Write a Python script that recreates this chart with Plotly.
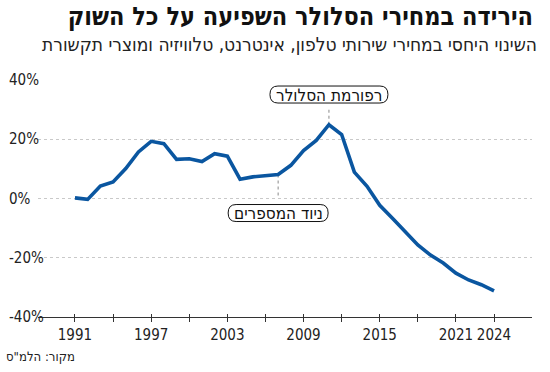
import plotly.graph_objects as go

years = list(range(1991, 2025))
change_pct = [0.2, -0.3, 4.2, 5.6, 10.1, 15.7, 19.3, 18.5, 13.2, 13.4,
              12.5, 15.1, 14.3, 6.5, 7.3, 7.8, 8.1, 11.2, 16.2, 19.6,
              24.9, 21.6, 8.9, 4.1, -2.3, -6.7, -11.2, -15.7, -19.1, -21.8,
              -25.2, -27.5, -29.1, -31.2]

x_tick_vals = list(range(1991, 2025, 3))
x_tick_text = ["1991", "", "1997", "", "2003", "", "2009", "", "2015", "", "2021", "2024"]
y_tick_vals = [-40, -20, 0, 20, 40]
y_tick_text = ["-40%", "-20%", "0%", "20%", "40%"]

title = "הירידה במחירי הסלולר השפיעה על כל השוק"
subtitle = "השינוי היחסי במחירי שירותי טלפון, אינטרנט, טלוויזיה ומוצרי תקשורת"
source = 'מקור: הלמ"ס'
events = [(2011, 24.9, 35.1, "רפורמת הסלולר", 118),
          (2007, 8.1, -4.9, "ניוד המספרים", 100)]

FONT = "Liberation Sans Narrow, DejaVu Sans Condensed, Liberation Sans, sans-serif"
BLUE = "#0a56a0"

fig = go.Figure()
fig.add_trace(go.Scatter(x=years, y=change_pct, mode="lines",
                         line=dict(color=BLUE, width=3.6), hoverinfo="skip"))
# invisible trace for the overlay axis (crossing tick marks)
fig.add_trace(go.Scatter(x=years, y=change_pct, xaxis="x2", mode="lines",
                         line=dict(width=0), opacity=0, hoverinfo="skip"))

xr = [1988.09, 2026.99]
fig.update_layout(
    width=550, height=372,
    margin=dict(l=38, r=18, t=80, b=55),
    paper_bgcolor="white", plot_bgcolor="white",
    showlegend=False,
    font=dict(family=FONT, color="#222"),
    xaxis=dict(range=xr, tickvals=x_tick_vals, ticktext=x_tick_text,
               ticks="outside", ticklen=4, tickcolor="#333", tickwidth=1.3,
               tickangle=0, automargin=False,
               showline=True, linecolor="#333", linewidth=1.3,
               showgrid=False, zeroline=False,
               tickfont=dict(size=15, color="#222", family=FONT)),
    xaxis2=dict(range=xr, overlaying="x", tickvals=x_tick_vals,
                ticks="inside", ticklen=3, tickcolor="#333", tickwidth=1.3,
                showticklabels=False, showgrid=False, zeroline=False,
                showline=False, side="bottom", anchor="y", automargin=False),
    yaxis=dict(range=[-40, 40], tickvals=y_tick_vals, showticklabels=False,
               showgrid=True, gridcolor="#c9c9c9", griddash="dot", gridwidth=1,
               zeroline=False, ticks="", automargin=False),
)

fig.update_layout(title=dict(text="<b>" + title + "</b>", xref="container", yref="container",
                             x=533 / 550, xanchor="right", y=1 - 16 / 372, yanchor="middle",
                             font=dict(size=25, color="#111", family=FONT)))

def px_x(p):
    return (p - 38) / 494

def px_y(p):
    return (317 - p) / 237

annotations = []
annotations.append(dict(text=subtitle, xref="paper", yref="paper", x=px_x(289),
                        y=px_y(44), xanchor="center", yanchor="middle",
                        showarrow=False, font=dict(size=19, color="#222", family=FONT)))
annotations.append(dict(text=source, xref="paper", yref="paper", x=px_x(40),
                        y=px_y(356), xanchor="center", yanchor="middle",
                        showarrow=False, font=dict(size=13, color="#222", family=FONT)))
for v, t in zip(y_tick_vals, y_tick_text):
    annotations.append(dict(text=t, xref="paper", yref="y", x=px_x(7), y=v,
                            xanchor="left", yanchor="middle", showarrow=False,
                            font=dict(size=15, color="#222", family=FONT)))

shapes = []
for yr, val, box_y, label, w in events:
    annotations.append(dict(text=label, x=yr, y=box_y, xref="x", yref="y",
                            showarrow=False, xanchor="center", yanchor="middle",
                            font=dict(size=17, color="#111", family=FONT)))
    hw, hh, r = w / 2, 8.5, 8
    path = (f"M {-hw + r},{-hh} L {hw - r},{-hh} Q {hw},{-hh} {hw},0 Q {hw},{hh} {hw - r},{hh} "
            f"L {-hw + r},{hh} Q {-hw},{hh} {-hw},0 Q {-hw},{-hh} {-hw + r},{-hh} Z")
    shapes.append(dict(type="path", xref="x", yref="y", xsizemode="pixel", ysizemode="pixel",
                       xanchor=yr, yanchor=box_y, path=path, fillcolor="white",
                       line=dict(color="#111", width=1), layer="above"))
    if box_y > val:
        y0, y1 = val, box_y - 4.7
    else:
        y0, y1 = val, 0
    shapes.append(dict(type="line", xref="x", yref="y", x0=yr, x1=yr, y0=y0, y1=y1,
                       line=dict(color="#888", width=1, dash="dot"), layer="below"))

fig.update_layout(annotations=annotations, shapes=shapes)
fig.write_html("out.html", config={"displayModeBar": False},
               post_script="document.body.style.margin='0';")
